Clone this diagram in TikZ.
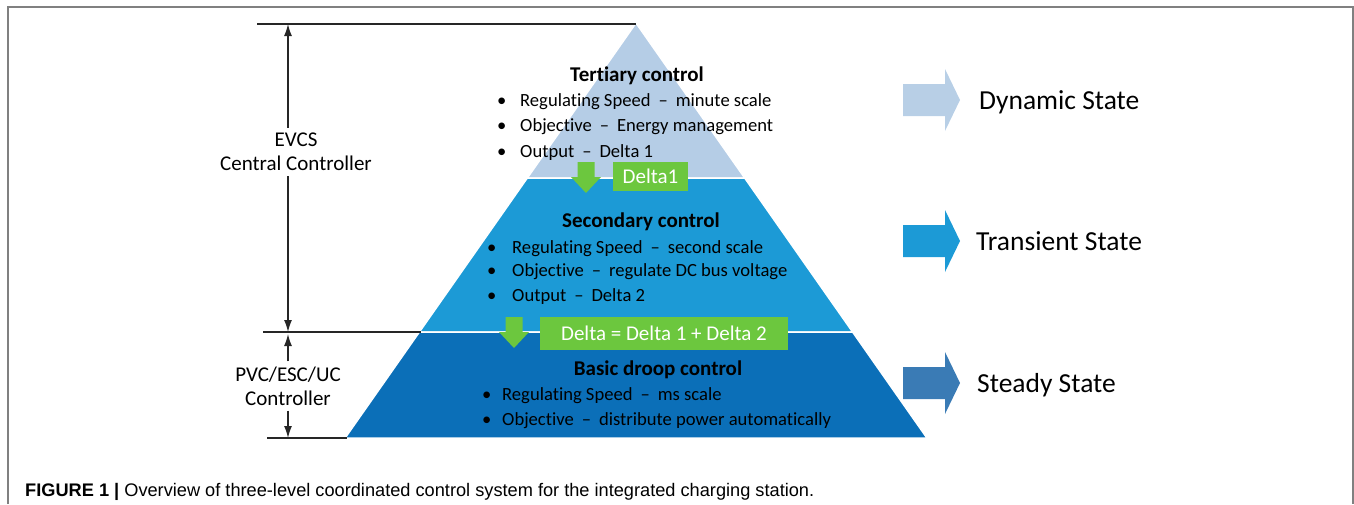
\documentclass[tikz,border=0pt]{standalone}
\usepackage{fontspec}
\setmainfont{Carlito}[Ligatures={NoCommon}]
\newfontfamily\capfont{Liberation Sans}
\usetikzlibrary{arrows.meta}

\definecolor{tertblue}{RGB}{181,205,230}
\definecolor{dynblue}{RGB}{184,207,230}
\definecolor{secblue}{RGB}{28,154,214}
\definecolor{basicblue}{RGB}{11,111,184}
\definecolor{steadyblue}{RGB}{58,123,181}
\definecolor{deltagreen}{RGB}{108,199,62}
\definecolor{framegray}{RGB}{128,128,128}

\newcommand{\sepdash}{\hspace{8pt}--\hspace{8pt}}
\newcommand{\bul}[1]{\makebox[#1][l]{\textbullet}}

\begin{document}
\begin{tikzpicture}[x=1pt, y=-1pt,
        tier/.style={draw=white, line width=1.5pt},
        tier title/.style={font=\fontsize{21}{25}\selectfont\bfseries, inner sep=0pt, anchor=base},
        tier item/.style={anchor=base west, inner sep=0pt, font=\fontsize{18.6}{22}\selectfont},
        level label/.style={align=center, font=\fontsize{21}{24}\selectfont, inner sep=5pt},
        state label/.style={anchor=base west, inner sep=0pt, font=\fontsize{27.5}{32}\selectfont},
        delta box/.style={fill=deltagreen, text=white, inner sep=0pt, font=\fontsize{21}{25}\selectfont},
        dim line/.style={draw, line width=1.3pt, black!85},
        dim arrow/.style={draw, line width=1.3pt, black!85, -{Latex[length=12pt, width=8pt]}},
        state arrow/.pic={\fill (0,-16) -- (42,-16) -- (42,-31) -- (57,0) -- (42,31) -- (42,16) -- (0,16) -- cycle;},
        delta arrow/.pic={\fill (-8.5,0) -- (8.5,0) -- (8.5,15) -- (15,15) -- (0,31) -- (-15,15) -- (-8.5,15) -- cycle;},
    ]
    \useasboundingbox (0,0) rectangle (1354,504);
    \draw[framegray, line width=1.5pt] (8,504) -- (8,7) -- (1353,7) -- (1353,504);

    % pyramid
    \coordinate (apex) at (636,23);
    \coordinate (t1l) at (527.3,178);
    \coordinate (t1r) at (744.7,178);
    \coordinate (t2l) at (419.4,332);
    \coordinate (t2r) at (852.6,332);
    \coordinate (t3l) at (345.1,438);
    \coordinate (t3r) at (926.9,438);
    \fill[tier, fill=tertblue] (apex) -- (t1l) -- (t1r) -- cycle;
    \fill[tier, fill=secblue] (t1l) -- (t2l) -- (t2r) -- (t1r) -- cycle;
    \fill[tier, fill=basicblue] (t2l) -- (t3l) -- (t3r) -- (t2r) -- cycle;

    % dimension lines
    \coordinate (top left) at (257,24);
    \coordinate (top right) at (636,24);
    \coordinate (mid left) at (263,332);
    \coordinate (mid right) at (421,332);
    \coordinate (base left) at (267,438);
    \coordinate (base right) at (347,438);
    \coordinate (evcs top) at (288,24);
    \coordinate (evcs bottom) at (288,332);
    \coordinate (pvc top) at (288,334);
    \coordinate (pvc bottom) at (288,438);
    \draw[dim line] (top left) -- (top right);
    \draw[dim line] (mid left) -- (mid right);
    \draw[dim line] (base left) -- (base right);
    \node[level label] (evcs) at (296,152) {EVCS\\Central Controller};
    \node[level label] (pvc) at (288,386) {PVC/ESC/UC\\Controller};
    \draw[dim arrow] (evcs top |- evcs.north) -- (evcs top);
    \draw[dim arrow] (evcs bottom |- evcs.south) -- (evcs bottom);
    \draw[dim arrow] (pvc.north) -- (pvc top);
    \draw[dim arrow] (pvc.south) -- (pvc bottom);

    % tertiary
    \node[tier title] (tert) at (637,81) {Tertiary control};
    \node[tier item] (tert1) at (497,106) {\bul{23pt}Regulating Speed\sepdash minute scale};
    \node[tier item] (tert2) at (497,131) {\bul{23pt}Objective\sepdash Energy management};
    \node[tier item] (tert3) at (497,157) {\bul{23pt}Output\sepdash Delta 1};

    % secondary
    \node[tier title] (sec) at (641,227) {Secondary control};
    \node[tier item] (sec1) at (487,253) {\bul{25pt}Regulating Speed\sepdash second scale};
    \node[tier item] (sec2) at (487,276) {\bul{25pt}Objective\sepdash regulate DC bus voltage};
    \node[tier item] (sec3) at (487,301) {\bul{25pt}Output\sepdash Delta 2};

    % basic
    \node[tier title] (basic) at (658,375) {Basic droop control};
    \node[tier item] (basic1) at (482,400) {\bul{20pt}Regulating Speed\sepdash ms scale};
    \node[tier item] (basic2) at (482,425) {\bul{20pt}Objective\sepdash distribute power automatically};

    % deltas
    \pic[deltagreen] at (586,162) {delta arrow};
    \node[delta box, minimum width=75pt, minimum height=29pt] (delta1) at (650.5,176.5) {Delta1};
    \pic[deltagreen] at (514,317) {delta arrow};
    \node[delta box, minimum width=248pt, minimum height=33pt] (delta) at (664,333.5) {Delta = Delta 1 + Delta 2};

    % states
    \pic[dynblue] at (903,100) {state arrow};
    \pic[secblue] at (903,241) {state arrow};
    \pic[steadyblue] at (903,383) {state arrow};
    \node[state label] (dynamic) at (979,109) {Dynamic State};
    \node[state label] (transient) at (976,250) {Transient State};
    \node[state label] (steady) at (977,392) {Steady State};

    % caption
    \node[anchor=base west, inner sep=0pt, font=\capfont\fontsize{18.2}{22}\selectfont] (caption) at (25,496)
        {\textbf{FIGURE 1 |} Overview of three-level coordinated control system for the integrated charging station.};
\end{tikzpicture}
\end{document}
